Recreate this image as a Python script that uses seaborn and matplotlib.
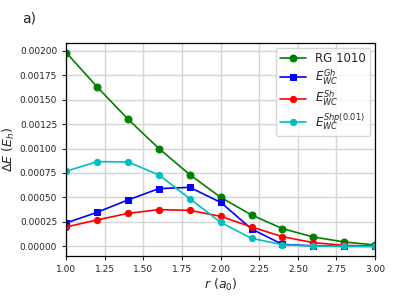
import numpy as np
import pandas as pd
import seaborn as sns
import matplotlib
matplotlib.use("Agg")
import matplotlib.pyplot as plt

r = [1.0, 1.2, 1.4, 1.6, 1.8, 2.0, 2.2, 2.4, 2.6, 2.8, 3.0]
rg_1010 = [0.00198, 0.00163, 0.00130, 0.00100, 0.000733, 0.000501, 0.000321, 0.000181, 0.000096, 0.000045, 0.000014]
e_gh = [0.000239, 0.000348, 0.000474, 0.000590, 0.000603, 0.000450, 0.000178, 0.000020, 0.000005, 0.000001, 0.0]
e_sh = [0.000198, 0.000270, 0.000337, 0.000375, 0.000368, 0.000307, 0.000198, 0.000099, 0.000038, 0.000010, 0.000003]
e_shp = [0.000767, 0.000866, 0.000863, 0.000730, 0.000488, 0.000245, 0.000082, 0.000017, 0.000002, 0.0, 0.0]

labels = ["RG 1010", r"$E_{WC}^{Gh}$", r"$E_{WC}^{Sh}$", r"$E_{WC}^{Shp(0.01)}$"]

sns.set_style("ticks")
plt.rcParams['font.family'] = ['DejaVu Sans']

fig, ax = plt.subplots(figsize=(3.94, 2.96), dpi=100)
fig.subplots_adjust(left=0.168, right=0.952, top=0.855, bottom=0.135)

styles = [("green", "o", 5), ("blue", "s", 5), ("red", "o", 4.5), ("c", "o", 4.5)]
for vals, lab, (col, mk, ms) in zip([rg_1010, e_gh, e_sh, e_shp], labels, styles):
    df = pd.DataFrame({"r": r, "dE": vals})
    sns.lineplot(data=df, x="r", y="dE", ax=ax, color=col, marker=mk, markersize=ms,
                 markeredgecolor=col, linewidth=1.2, label=lab)

ax.set_xlim(1.0, 3.0)
ax.set_xticks(np.arange(1.0, 3.01, 0.25))
ax.set_yticks(np.arange(0, 0.00201, 0.00025))
ax.yaxis.set_major_formatter(matplotlib.ticker.FormatStrFormatter('%.5f'))
ax.xaxis.set_major_formatter(matplotlib.ticker.FormatStrFormatter('%.2f'))
ax.tick_params(labelsize=6.5, length=3, width=0.8)
ax.grid(True, color="#d5d5d5", linewidth=1.0)
ax.set_axisbelow(True)
for s in ax.spines.values():
    s.set_color("black")
    s.set_linewidth(0.9)
ax.set_xlabel(r"$r\ (a_0)$", fontsize=9, labelpad=2)
ax.set_ylabel(r"$\Delta E\ (E_h)$", fontsize=9, labelpad=2)
ax.legend(loc="upper right", fontsize=8.5, handlelength=2.2, borderaxespad=0.4,
          labelspacing=0.2, borderpad=0.35)
fig.text(0.055, 0.925, "a)", fontsize=10)

fig.savefig("out.png", dpi=100)
